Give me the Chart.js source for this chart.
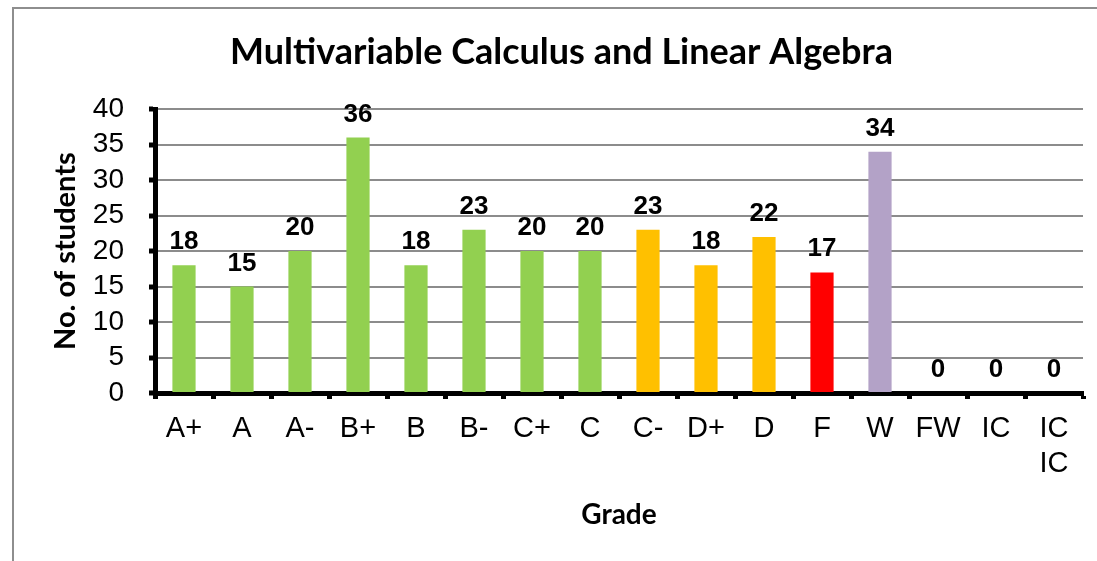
<!DOCTYPE html>
<html>
<head>
<meta charset="utf-8">
<script src="https://cdn.jsdelivr.net/npm/chart.js@4"></script>
<style>
  html, body { margin: 0; padding: 0; background: #fff; }
  #wrap { position: relative; width: 1097px; height: 561px; overflow: hidden; }
  #frame { position: absolute; left: 12px; top: 7px; width: 1200px; height: 700px;
           border-left: 2px solid #8e8e8e; border-top: 2px solid #8e8e8e; }
  canvas { position: absolute; left: 0; top: 0; }
</style>
</head>
<body>
<div id="wrap">
  <div id="frame"></div>
  <canvas id="gradeChart" width="1097" height="561"></canvas>
</div>
<script>
let grades = ['A+', 'A', 'A-', 'B+', 'B', 'B-', 'C+', 'C', 'C-', 'D+', 'D', 'F', 'W', 'FW', 'IC', 'IC IC'];
let students = [18, 15, 20, 36, 18, 23, 20, 20, 23, 18, 22, 17, 34, 0, 0, 0];
let groups = ['pass', 'pass', 'pass', 'pass', 'pass', 'pass', 'pass', 'pass',
              'low', 'low', 'low', 'fail', 'withdrawn', 'other', 'other', 'other'];
let yTicks = [0, 5, 10, 15, 20, 25, 30, 35, 40];

let COLORS = {
    'pass' : '#92d050',
    'low' : '#ffc000',
    'fail' : '#ff0000',
    'withdrawn' : '#b3a2c7',
    'other' : '#808080',
}

// numbers above each bar
let barValues = {
    id: 'barValues',
    afterDatasetsDraw(chart) {
        let ctx = chart.ctx;
        ctx.save();
        ctx.font = 'bold 26px "Liberation Sans", Arial, sans-serif';
        ctx.fillStyle = '#000';
        ctx.textAlign = 'center';
        ctx.textBaseline = 'alphabetic';
        chart.getDatasetMeta(0).data.forEach(function (bar, i) {
            ctx.fillText(students[i], bar.x, bar.y - 16);
        });
        ctx.restore();
    }
};

let ctx = document.getElementById('gradeChart').getContext('2d');
let chart = new Chart(ctx, {
    type: 'bar',
    data: {
        labels: grades,
        datasets: [{
            data: students,
            backgroundColor: groups.map(g => COLORS[g]),
            barPercentage: 0.4,
            categoryPercentage: 1.0,
        }]
    },
    options: {
        responsive: false,
        animation: false,
        layout: { padding: { left: 40, right: 14, top: 10, bottom: 10 } },
        plugins: {
            legend: { display: false },
            tooltip: { enabled: false },
            title: {
                display: true,
                text: 'Multivariable Calculus and Linear Algebra',
                color: '#000',
                font: { family: 'Lato', size: 36, weight: 'bold', lineHeight: 1.2 },
                padding: { top: 21, bottom: 35 },
            },
        },
        scales: {
            x: {
                afterFit: function (s) { s.height = 158; },
                grid: { drawOnChartArea: false, offset: true, tickColor: '#000', tickWidth: 5, tickLength: 6 },
                border: { color: '#000', width: 5 },
                ticks: {
                    color: '#000',
                    padding: 12,
                    maxRotation: 0,
                    autoSkip: false,
                    font: { family: '"Liberation Sans", Arial', size: 29, lineHeight: 1.22 },
                    callback: function (v, i) { return grades[i].split(' '); },
                },
                title: {
                    display: true,
                    text: 'Grade',
                    color: '#000',
                    font: { family: 'Lato', size: 28, weight: 'bold', lineHeight: 1.2 },
                    padding: { bottom: 19 },
                },
            },
            y: {
                min: 0,
                max: 40,
                afterFit: function (s) { s.width = 115; },
                afterBuildTicks: function (s) { s.ticks = yTicks.map(v => ({ value: v })); },
                grid: { color: '#8c8c8c', lineWidth: 2, tickColor: '#000', tickWidth: 5, tickLength: 6 },
                border: { color: '#000', width: 5 },
                ticks: {
                    color: '#000',
                    padding: 25,
                    autoSkip: false,
                    font: { family: '"Liberation Sans", Arial', size: 28 },
                },
                title: {
                    display: true,
                    text: 'No. of students',
                    color: '#000',
                    font: { family: 'Lato', size: 29, weight: 'bold', lineHeight: 1.2 },
                    padding: { top: 8 },
                },
            }
        }
    },
    plugins: [barValues]
});
</script>
</body>
</html>
